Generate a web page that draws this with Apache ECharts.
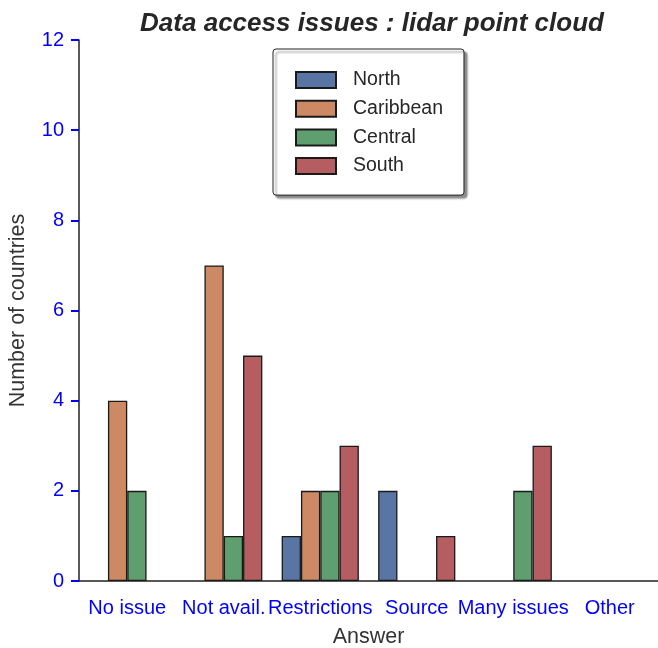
<!DOCTYPE html>
<html>
<head>
<meta charset="utf-8">
<script src="https://cdn.jsdelivr.net/npm/echarts@6/dist/echarts.min.js"></script>
<style>
  html, body { margin: 0; padding: 0; background: #fff; }
  #chart { width: 658px; height: 648px; }
</style>
</head>
<body>
<div id="chart"></div>
<script>
	// categories and values
	var categories = ['No issue', 'Not avail.', 'Restrictions', 'Source', 'Many issues', 'Other'];
	var north = [0, 0, 1, 2, 0, 0];
	var caribbean = [4, 7, 2, 0, 0, 0];
	var central = [2, 1, 2, 0, 2, 0];
	var south = [0, 5, 3, 1, 3, 0];
	var yTicks = [0, 2, 4, 6, 8, 10, 12];

	var colors = ['#5975a4', '#cc8963', '#5f9e6e', '#b55d60'];
	var font = 'Liberation Sans';

	function bar(name, data, i) {
		return {
			name: name,
			type: 'bar',
			// zero-height bars are not drawn in the reference
			data: data.map(function (v) { return v === 0 ? null : v; }),
			barGap: '0%',
			barCategoryGap: '20%',
			itemStyle: { color: colors[i], borderColor: '#1a1a1a', borderWidth: 1.3 }
		};
	}

	var chart = echarts.init(document.getElementById('chart'));
	chart.setOption({
		animation: false,
		title: {
			text: 'Data access issues : lidar point cloud',
			left: 367, top: 6, textAlign: 'center',
			textStyle: { fontFamily: font, fontSize: 26, fontWeight: 'bold', fontStyle: 'italic', color: '#262626' }
		},
		legend: {
			orient: 'vertical',
			left: 273, top: 49,
			padding: [21, 21, 19, 22],
			icon: 'rect',
			itemWidth: 40, itemHeight: 16, itemGap: 8.7,
			backgroundColor: '#fff',
			borderColor: '#222', borderWidth: 1, borderRadius: 3,
			shadowColor: 'rgba(0,0,0,0.45)', shadowBlur: 2, shadowOffsetX: 3, shadowOffsetY: 3,
			textStyle: { fontFamily: font, fontSize: 19.5, color: '#262626', padding: [0, 0, 0, 12] },
			data: ['North', 'Caribbean', 'Central', 'South']
		},
		grid: { left: 79, right: 0, top: 40, bottom: 67, outerBoundsMode: 'none', containLabel: false },
		xAxis: {
			type: 'category',
			data: categories,
			name: 'Answer',
			nameLocation: 'middle',
			nameGap: 45,
			nameTextStyle: { fontFamily: font, fontSize: 21.5, color: '#333' },
			axisLine: { lineStyle: { color: '#222', width: 1.5 } },
			axisTick: { alignWithLabel: true, length: 8, lineStyle: { color: '#0000ff', width: 2 } },
			axisLabel: { fontFamily: font, fontSize: 20, color: '#0000ff', margin: 17, interval: 0 }
		},
		yAxis: {
			type: 'value',
			min: yTicks[0], max: yTicks[yTicks.length - 1], interval: 2,
			name: 'Number of countries',
			nameLocation: 'middle',
			nameGap: 50,
			nameTextStyle: { fontFamily: font, fontSize: 21.5, color: '#333' },
			splitLine: { show: false },
			axisLine: { show: true, lineStyle: { color: '#222', width: 1.5 } },
			axisTick: { show: true, length: 8, lineStyle: { color: '#0000ff', width: 2 } },
			axisLabel: { fontFamily: font, fontSize: 20, color: '#0000ff', margin: 15 }
		},
		series: [
			bar('North', north, 0),
			bar('Caribbean', caribbean, 1),
			bar('Central', central, 2),
			bar('South', south, 3)
		]
	});
</script>
</body>
</html>
